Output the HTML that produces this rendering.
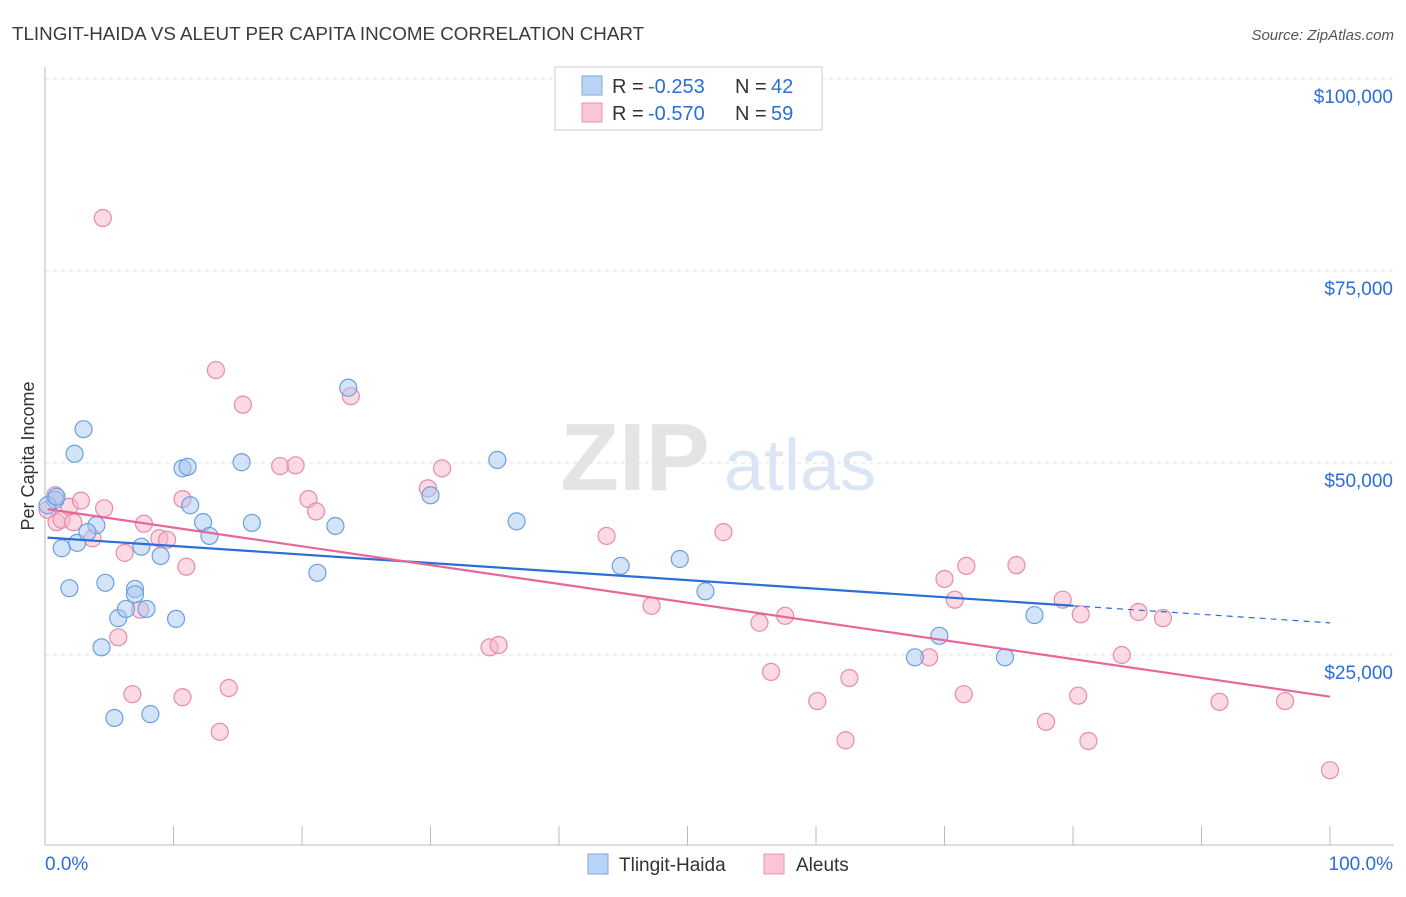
<!DOCTYPE html>
<html><head><meta charset="utf-8"><style>
body{margin:0;background:#fff;font-family:"Liberation Sans",sans-serif;}
svg text{font-family:"Liberation Sans",sans-serif;}
</style></head><body>
<svg id="chart" width="1406" height="892" viewBox="0 0 1406 892" xmlns="http://www.w3.org/2000/svg">
<text x="12" y="40" font-size="18.8" fill="#3a3a3a">TLINGIT-HAIDA VS ALEUT PER CAPITA INCOME CORRELATION CHART</text>
<text x="1394" y="40" font-size="15" fill="#555" text-anchor="end" font-style="italic">Source: ZipAtlas.com</text>
<text x="34" y="456" font-size="18" fill="#333" text-anchor="middle" transform="rotate(-90 34 456)">Per Capita Income</text>
<g>
<text x="635" y="490" font-size="96" fill="#e4e4e4" text-anchor="middle" font-family="Liberation Serif" font-weight="bold">ZIP</text>
<text x="800" y="490" font-size="72" fill="#dbe6f5" text-anchor="middle">atlas</text>
</g>
<g id="grid"></g><g id="axes"></g><g id="marks"></g><g id="trends"></g>
<g>
<rect x="555" y="67" width="267" height="63" fill="#fff" stroke="#ccc"/>
<rect x="582" y="76" width="20" height="19" fill="#b8d3f5" stroke="#7aa8e0"/>
<rect x="582" y="103" width="20" height="19" fill="#f9c6d6" stroke="#eb94b2"/>
<text x="612" y="93" font-size="20" fill="#333">R =</text>
<text x="648" y="93" font-size="20" fill="#2a6fd6">-0.253</text>
<text x="735" y="93" font-size="20" fill="#333">N =</text>
<text x="771" y="93" font-size="20" fill="#2a6fd6">42</text>
<text x="612" y="120" font-size="20" fill="#333">R =</text>
<text x="648" y="120" font-size="20" fill="#2a6fd6">-0.570</text>
<text x="735" y="120" font-size="20" fill="#333">N =</text>
<text x="771" y="120" font-size="20" fill="#2a6fd6">59</text>
</g>
<g>
<rect x="588" y="854" width="20" height="20" fill="#b8d3f5" stroke="#7aa8e0"/>
<text x="619" y="871" font-size="19" fill="#333">Tlingit-Haida</text>
<rect x="764" y="854" width="20" height="20" fill="#f9c6d6" stroke="#eb94b2"/>
<text x="796" y="871" font-size="19" fill="#333">Aleuts</text>
</g>
</svg>
<script>
const yTicks=[25000,50000,75000,100000];
const yTickLabels=["$25,000","$50,000","$75,000","$100,000"];
const xTickLabels=["0.0%","100.0%"];
const blueX=[0.8,0.2,0.9,3.0,2.3,1.3,2.5,4.0,3.3,1.9,4.7,4.4,5.7,6.3,7.0,7.0,7.9,7.5,9.0,10.2,5.4,8.2,10.7,11.1,11.3,12.3,12.8,15.3,16.1,21.2,22.6,23.6,30.0,35.2,36.7,44.8,49.4,51.4,67.7,69.6,74.7,77.0];
const blueY=[45.2,44.5,45.6,54.4,51.2,38.9,39.6,41.9,41.0,33.7,34.4,26.0,29.8,31.0,33.6,32.9,31.0,39.1,37.9,29.7,16.8,17.3,49.3,49.5,44.5,42.3,40.5,50.1,42.2,35.7,41.8,59.8,45.8,50.4,42.4,36.6,37.5,33.3,24.7,27.5,24.7,30.2];
const pinkX=[4.5,0.8,0.2,0.9,1.3,1.9,2.2,2.8,3.7,4.6,5.7,6.2,6.8,7.4,7.7,8.9,9.5,10.7,10.7,11.0,13.3,13.6,14.3,15.4,18.3,19.5,20.5,21.1,23.8,29.8,30.9,34.6,35.3,43.7,47.2,52.8,55.6,56.5,57.6,60.1,62.3,62.6,68.8,70.0,70.8,71.5,71.7,75.6,77.9,79.2,80.4,80.6,81.2,83.8,85.1,87.0,91.4,96.5,100.0];
const pinkY=[81.9,45.8,43.9,42.3,42.6,44.3,42.3,45.1,40.2,44.1,27.3,38.3,19.9,30.9,42.1,40.2,40.0,45.3,19.5,36.5,62.1,15.0,20.7,57.6,49.6,49.7,45.3,43.7,58.7,46.7,49.3,26.0,26.3,40.5,31.4,41.0,29.2,22.8,30.1,19.0,13.9,22.0,24.7,34.9,32.2,19.9,36.6,36.7,16.3,32.2,19.7,30.3,13.8,25.0,30.6,29.8,18.9,19.0,10.0];
const NS="http://www.w3.org/2000/svg";
const X=p=>45+p*12.85;
const Y=v=>847-v*192/25000;
function mk(tag,attrs,parent){const e=document.createElementNS(NS,tag);for(const k in attrs)e.setAttribute(k,attrs[k]);document.getElementById(parent).appendChild(e);return e;}
yTicks.forEach((t,i)=>{
  const g=mk('line',{x1:45,x2:1394,y1:Y(t),y2:Y(t),stroke:'#e3e3e3','stroke-dasharray':'4,4'},'grid');
  
  
  const l=mk('text',{x:1393,y:Y(t)+24,'font-size':19,fill:'#2a6fd6','text-anchor':'end'},'grid');
  l.textContent=yTickLabels[i];
  
  
});
const topLine=mk('line',{x1:45,x2:1394,y1:79,y2:79,stroke:'#e3e3e3','stroke-dasharray':'4,4'},'grid');


const ya=mk('line',{x1:45,x2:45,y1:67,y2:845,stroke:'#bbb'},'axes');


const xa=mk('line',{x1:45,x2:1394,y1:845,y2:845,stroke:'#bbb'},'axes');


for(let i=0;i<=10;i++){
  const t=mk('line',{x1:X(i*10),x2:X(i*10),y1:826,y2:845,stroke:'#bbb'},'axes');
  
  
}
const xl0=mk('text',{x:45,y:870,'font-size':19,fill:'#2a6fd6'},'axes');xl0.textContent=xTickLabels[0];


const xl1=mk('text',{x:1393,y:870,'font-size':19,fill:'#2a6fd6','text-anchor':'end'},'axes');xl1.textContent=xTickLabels[1];


function pts(xs,ys,fill,stroke,name){
  xs.forEach((x,i)=>{
    const c=mk('circle',{cx:X(x),cy:Y(ys[i]*1000),r:8.5,fill:fill,'fill-opacity':0.5,stroke:stroke,'stroke-width':1.2},'marks');
    
    
  });
}
pts(pinkX,pinkY,'#f7b6ca','#e98aab','aleut-point');
pts(blueX,blueY,'#a8c8f2','#6d9fde','tlingit-point');
function reg(xs,ys){const n=xs.length;let mx=0,my=0;xs.forEach((x,i)=>{mx+=x;my+=ys[i];});mx/=n;my/=n;let sxy=0,sxx=0;xs.forEach((x,i)=>{sxy+=(x-mx)*(ys[i]-my);sxx+=(x-mx)*(x-mx);});const b=sxy/sxx;return [my-b*mx,b];}
const [ba,bb]=reg(blueX,blueY), [pa,pb]=reg(pinkX,pinkY);
const bmax=80;
let l=mk('line',{x1:X(0.2),y1:Y((ba+bb*0.2)*1000),x2:X(bmax),y2:Y((ba+bb*bmax)*1000),stroke:'#2a6fd6','stroke-width':2.2},'trends');


l=mk('line',{x1:X(bmax),y1:Y((ba+bb*bmax)*1000),x2:X(100),y2:Y((ba+bb*100)*1000),stroke:'#2a6fd6','stroke-width':1.2,'stroke-dasharray':'6,5'},'trends');


l=mk('line',{x1:X(0.2),y1:Y((pa+pb*0.2)*1000),x2:X(100),y2:Y((pa+pb*100)*1000),stroke:'#e8679a','stroke-width':2.2},'trends');


</script>
</body></html>
